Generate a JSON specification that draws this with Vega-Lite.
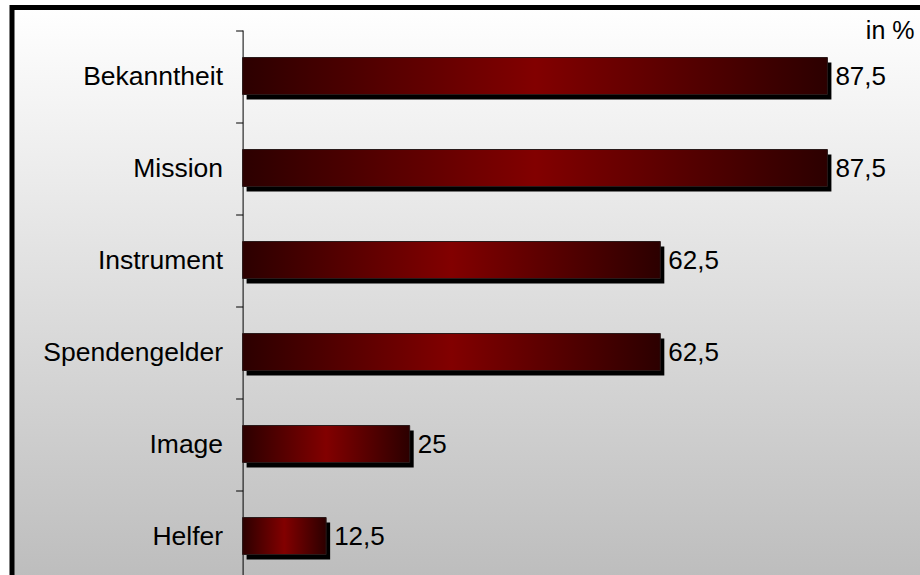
{
  "$schema": "https://vega.github.io/schema/vega-lite/v6.json",
  "width": 915,
  "height": 580,
  "autosize": {"type": "none"},
  "padding": {"left": 12, "top": 7.5, "right": 0, "bottom": 0},
  "background": "#ffffff",
  "config": {
    "font": "Liberation Sans",
    "view": {
      "stroke": "#000000",
      "strokeWidth": 5,
      "fill": {"gradient": "linear", "x1": 0, "y1": 0, "x2": 0, "y2": 1,
        "stops": [{"offset": 0, "color": "#ffffff"}, {"offset": 1, "color": "#bcbcbc"}]}
    }
  },
  "data": {
    "values": [
      {"cat": "Bekanntheit", "v": 87.5, "label": "87,5"},
      {"cat": "Mission", "v": 87.5, "label": "87,5"},
      {"cat": "Instrument", "v": 62.5, "label": "62,5"},
      {"cat": "Spendengelder", "v": 62.5, "label": "62,5"},
      {"cat": "Image", "v": 25, "label": "25"},
      {"cat": "Helfer", "v": 12.5, "label": "12,5"}
    ]
  },
  "encoding": {
    "y": {
      "field": "cat", "type": "nominal", "sort": null,
      "scale": {"range": [22.5, 574.5], "paddingInner": 0, "paddingOuter": 0},
      "axis": {
        "title": null, "offset": -230.6, "tickBand": "extent", "tickSize": 7,
        "tickColor": "#000000", "domainColor": "#000000", "labelPadding": 13,
        "labelFontSize": 26.5, "labelColor": "#000000", "labelFont": "Liberation Sans"
      }
    },
    "x": {
      "field": "v", "type": "quantitative",
      "scale": {"domain": [-34.5, 102.4], "nice": false, "zero": false},
      "axis": {
        "orient": "top", "title": "in %", "domain": false, "ticks": false, "labels": false, "grid": false,
        "titleX": 902, "titleY": 30.5, "titleAlign": "right", "titleAnchor": null, "titleBaseline": "alphabetic",
        "titleFontSize": 25, "titleFontWeight": "normal", "titleColor": "#000000", "titleFont": "Liberation Sans"
      }
    }
  },
  "layer": [
    {"mark": {"type": "bar", "size": 37, "color": "#000000", "xOffset": 4, "x2Offset": 4, "yOffset": 5, "y2Offset": 5}},
    {"mark": {"type": "bar", "size": 37, "stroke": "#2a1a1a", "strokeWidth": 1,
      "fill": {"gradient": "linear", "x1": 0, "y1": 0, "x2": 1, "y2": 0,
        "stops": [{"offset": 0, "color": "#2c0000"}, {"offset": 0.5, "color": "#820000"}, {"offset": 1, "color": "#2c0000"}]}}},
    {"mark": {"type": "text", "align": "left", "dx": 8, "dy": 1, "fontSize": 26, "color": "#000000", "font": "Liberation Sans"},
      "encoding": {"text": {"field": "label"}}}
  ]
}
